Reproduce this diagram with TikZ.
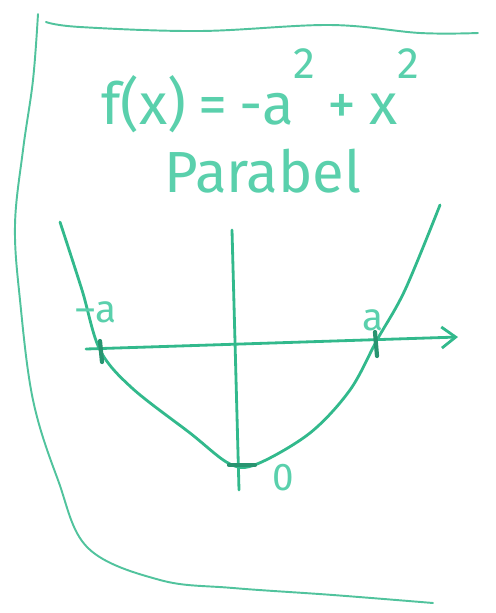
\documentclass[tikz,border=0pt]{standalone}
\usepackage{fontspec}
\setmainfont{Fira Sans}
\usepackage{tikz}
\usetikzlibrary{positioning, calc, arrows.meta}
\definecolor{PenColor}{RGB}{50,185,140}
\definecolor{InkColor}{RGB}{90,208,172}
\tikzset{
    pen/.style={draw=PenColor, line width=1.6pt, line cap=round, line join=round},
    framepen/.style={draw=PenColor!85, line width=1.1pt, line cap=round},
    tickpen/.style={draw=PenColor!80!black, line width=2.4pt, line cap=round},
    handtext/.style={text=InkColor, inner sep=0pt, anchor=base},
    bigtext/.style={handtext, font=\fontsize{33}{38}\selectfont},
    smalltext/.style={handtext, font=\fontsize{22}{26}\selectfont}
}
\newcommand{\sqmark}{\raisebox{1.5ex}{\fontsize{25}{27}\selectfont 2}}
\newcommand{\gap}{\hspace{7pt}}

\begin{document}
\begin{tikzpicture}[x=0.02cm, y=-0.02cm]
\useasboundingbox (0,0) rectangle (495,613);

% Frame
\draw[framepen] plot[smooth, tension=0.6] coordinates {(38,14) (33,80) (23,150) (15,225) (20,300) (33,400) (58,480) (88,548) (160,580) (233,588) (333,595) (433,603)};
\draw[framepen] plot[smooth, tension=0.6] coordinates {(46,22) (80,27) (200,31) (330,25) (420,33) (478,33)};

% Title
\node[bigtext] (formula) at (260,124) {f(x)\gap=\gap-a\sqmark\gap+\gap x\sqmark};
\node[bigtext] (name) at (263,192) {Parabel};

% Axes
\coordinate (xstart) at (86,349);
\coordinate (xend) at (458,337);
\coordinate (ystart) at (232,230);
\coordinate (yend) at (239,490);
\draw[pen, -{Straight Barb[length=8pt, width=12pt]}] (xstart) -- (xend);
\draw[pen] (ystart) -- (yend);

% Parabola
\draw[pen] plot[smooth, tension=0.55] coordinates {(60,222) (82,290) (100,350) (132,388) (190,433) (230,464) (257,464) (310,433) (350,390) (377,340) (405,290) (440,205)};

% Roots and vertex
\coordinate (rootL) at (101,351);
\coordinate (rootR) at (377,343);
\coordinate (vertex) at (242,465);
\draw[tickpen] ($(rootL)+(-1,-10)$) -- ($(rootL)+(1,11)$);
\draw[tickpen] ($(rootR)+(-2,-11)$) -- ($(rootR)+(0,13)$);
\draw[tickpen] ($(vertex)+(-13,0)$) -- ($(vertex)+(13,0)$);

% Labels
\node[smalltext] (labelL) at (96,322) {–a};
\node[smalltext] (labelR) at (373,330) {a};
\node[smalltext] (label0) at (283,490) {0};

\end{tikzpicture}
\end{document}
